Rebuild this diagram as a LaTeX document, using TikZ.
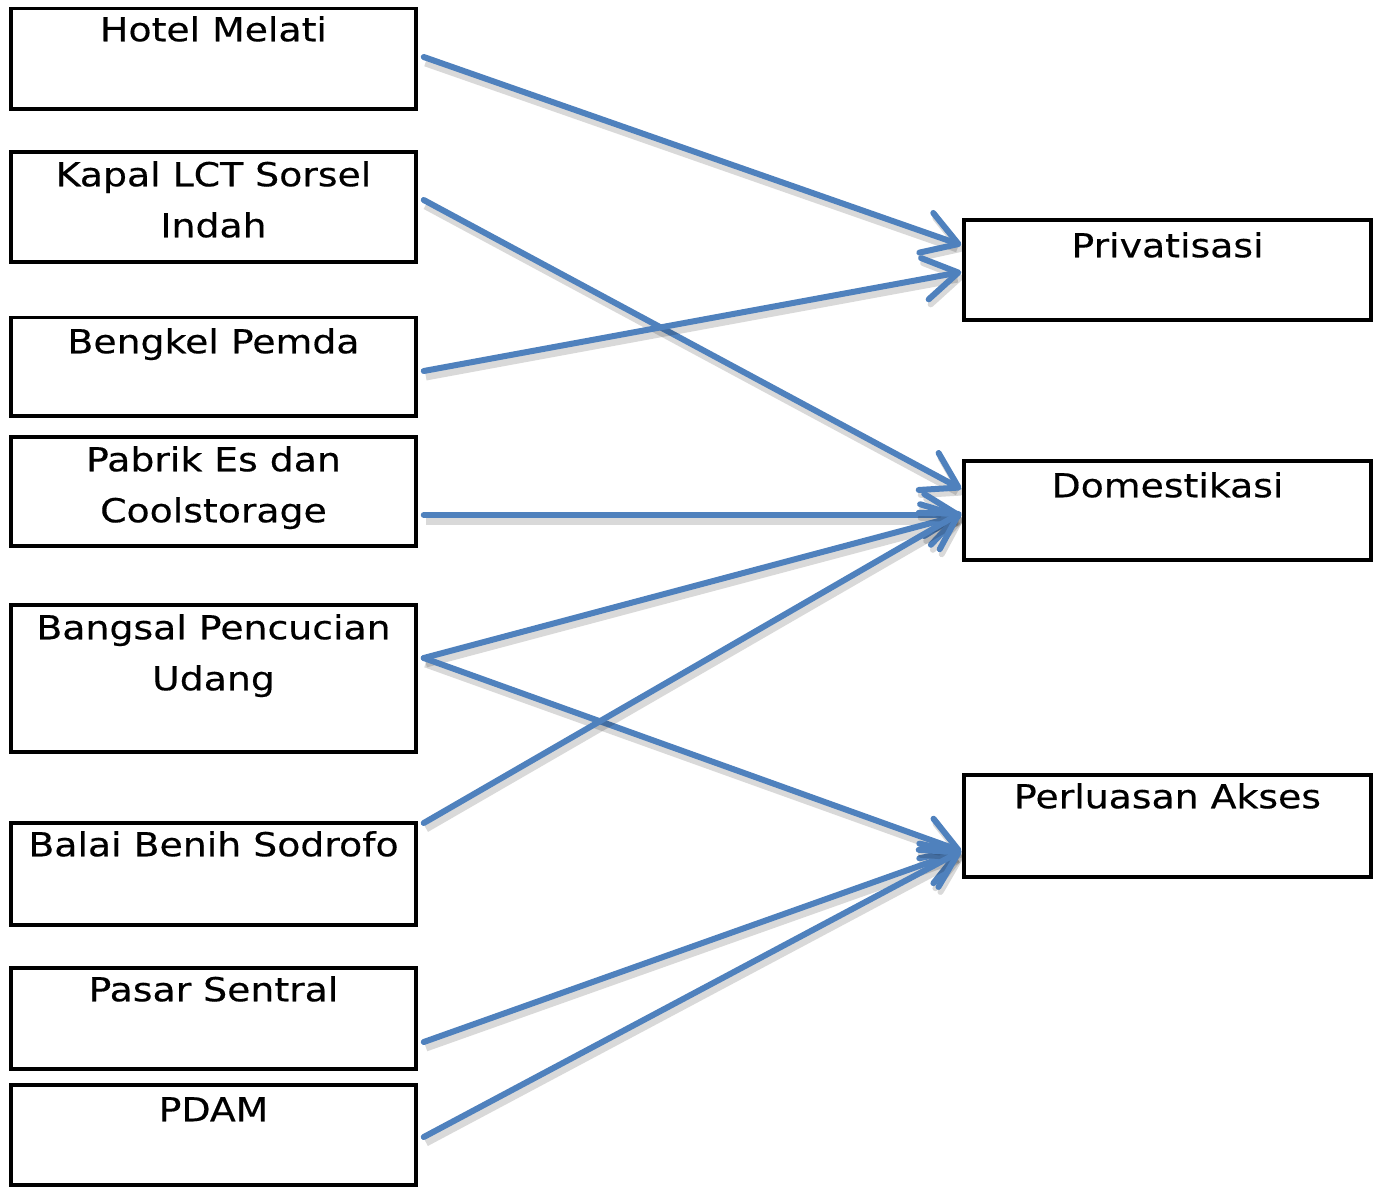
\documentclass[tikz,border=0pt]{standalone}
\usepackage{fontspec}
\newfontfamily\lblfont[FakeStretch=1.145,FakeBold=0.4]{DejaVu Sans}
\usetikzlibrary{arrows.meta,calc}
\definecolor{linkblue}{HTML}{4F81BD}
\begin{document}
\begin{tikzpicture}[x=1pt,y=-1pt,
  box/.style={draw=black,line width=3.5pt,inner sep=0pt,minimum width=405pt},
  rbox/.style={draw=black,line width=3.5pt,inner sep=0pt,minimum width=407pt},
  lbl/.style={font=\lblfont\fontsize{33}{51}\selectfont,align=center,anchor=base,inner sep=0pt},
  conn/.style={draw=linkblue,line width=6pt,line cap=round,
    -{Straight Barb[length=34pt,width=42pt,line width=6pt,round]},
    preaction={draw=black,opacity=0.15,line width=9pt,transform canvas={shift={(2pt,-5pt)}}}}]
\useasboundingbox[fill=white] (0,0) rectangle (1376,1189);
% left boxes
\node[box,minimum height=100.5pt] (hotel) at (213.5,58.75) {};
\node[box,minimum height=110pt] (kapal) at (213.5,207) {};
\node[box,minimum height=98.5pt] (bengkel) at (213.5,366.75) {};
\node[box,minimum height=109pt] (pabrik) at (213.5,491.5) {};
\node[box,minimum height=147pt] (bangsal) at (213.5,678.5) {};
\node[box,minimum height=102pt] (balai) at (213.5,874) {};
\node[box,minimum height=101pt] (pasar) at (213.5,1018.5) {};
\node[box,minimum height=100pt] (pdam) at (213.5,1135) {};
% right boxes
\node[rbox,minimum height=100pt] (priv) at (1167.5,270) {};
\node[rbox,minimum height=99pt] (dom) at (1167.5,510.5) {};
\node[rbox,minimum height=102pt] (perl) at (1167.5,826) {};
% labels (base = baseline of the last line)
\node[lbl] (hotel-t) at ($(hotel.north)+(0,34.5)$) {Hotel Melati};
\node[lbl] (kapal-t) at ($(kapal.north)+(0,87)$) {Kapal LCT Sorsel\\Indah};
\node[lbl] (bengkel-t) at ($(bengkel.north)+(0,37.5)$) {Bengkel Pemda};
\node[lbl] (pabrik-t) at ($(pabrik.north)+(0,87)$) {Pabrik Es dan\\Coolstorage};
\node[lbl] (bangsal-t) at ($(bangsal.north)+(0,87)$) {Bangsal Pencucian\\Udang};
\node[lbl] (balai-t) at ($(balai.north)+(0,35)$) {Balai Benih Sodrofo};
\node[lbl] (pasar-t) at ($(pasar.north)+(0,35)$) {Pasar Sentral};
\node[lbl] (pdam-t) at ($(pdam.north)+(0,38)$) {PDAM};
\node[lbl] (priv-t) at ($(priv.north)+(0,39)$) {Privatisasi};
\node[lbl] (dom-t) at ($(dom.north)+(0,38)$) {Domestikasi};
\node[lbl] (perl-t) at ($(perl.north)+(0,35)$) {Perluasan Akses};
% connectors
\draw[conn] ($(hotel.east)+(6,-1.75)$) -- ($(priv.west)+(-1,-25)$);
\draw[conn] ($(kapal.east)+(6,-7)$) -- ($(dom.west)+(-1,-21.5)$);
\draw[conn] ($(bengkel.east)+(6,4.25)$) -- ($(priv.west)+(-1,2)$);
\draw[conn] ($(pabrik.east)+(6,23.5)$) -- ($(dom.west)+(-1,4.5)$);
\draw[conn] ($(bangsal.east)+(6,-20.5)$) -- ($(dom.west)+(-1,4.5)$);
\draw[conn] ($(bangsal.east)+(6,-20.5)$) -- ($(perl.west)+(-1,25)$);
\draw[conn] ($(balai.east)+(6,-51)$) -- ($(dom.west)+(-1,2)$);
\draw[conn] ($(pasar.east)+(6,23.5)$) -- ($(perl.west)+(-1,25)$);
\draw[conn] ($(pdam.east)+(6,2)$) -- ($(perl.west)+(-1,25)$);
\end{tikzpicture}
\end{document}
